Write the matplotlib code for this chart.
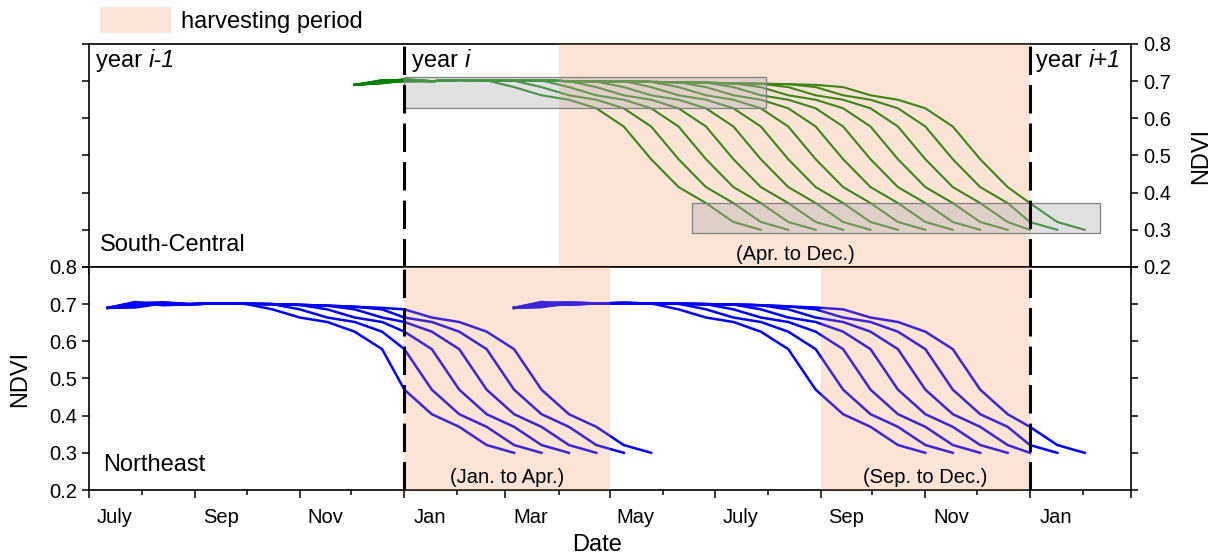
import numpy as np
import matplotlib.pyplot as plt
import matplotlib.dates as mdates
from matplotlib.patches import Patch, Rectangle
from matplotlib.transforms import blended_transform_factory

plt.rcParams['font.family'] = ['Liberation Sans', 'DejaVu Sans']

# MODIS 16-day composites: every curve = flat part + the same decline shifted by one composite
decline_ne = [0.686, 0.664, 0.652, 0.626, 0.579, 0.470, 0.404, 0.370, 0.321, 0.300]
decline_sc = [0.684, 0.662, 0.650, 0.627, 0.578, 0.490, 0.415, 0.372, 0.321, 0.300]

# Northeast, season 1: starts 2017 DOY 193, six curves
ne1_plateau = [0.690, 0.696, 0.701, 0.700, 0.702, 0.701, 0.700, 0.698, 0.696, 0.693, 0.690]
ne1_heads = [[0.690, 0.706, 0.697], [0.690, 0.694, 0.704], [0.690, 0.700, 0.699],
             [0.690, 0.691, 0.702], [0.690, 0.703, 0.705], [0.690, 0.697, 0.700]]

# Northeast, season 2: starts 2018 DOY 65, seven curves
ne2_plateau = [0.690, 0.695, 0.700, 0.702, 0.703, 0.702, 0.701, 0.700, 0.699, 0.697, 0.694, 0.691]
ne2_heads = [[0.690, 0.706, 0.698], [0.690, 0.693, 0.704], [0.690, 0.700, 0.700],
             [0.690, 0.692, 0.703], [0.690, 0.704, 0.705], [0.690, 0.696, 0.699],
             [0.690, 0.699, 0.702]]

# South-Central: starts 2017 DOY 337, thirteen curves
sc_plateau = [0.690, 0.697, 0.702, 0.700, 0.703, 0.702, 0.701, 0.702, 0.700, 0.699,
              0.700, 0.698, 0.697, 0.696, 0.694, 0.693, 0.692, 0.690]
sc_heads = [[0.690, 0.700, 0.705], [0.690, 0.695, 0.700], [0.690, 0.703, 0.701],
            [0.690, 0.698, 0.704], [0.690, 0.694, 0.702], [0.690, 0.701, 0.699],
            [0.690, 0.697, 0.705], [0.690, 0.699, 0.700], [0.690, 0.696, 0.703],
            [0.690, 0.702, 0.701], [0.690, 0.695, 0.704], [0.690, 0.700, 0.702],
            [0.690, 0.698, 0.700]]

month_labels = ['July', 'Sep', 'Nov', 'Jan', 'Mar', 'May', 'July', 'Sep', 'Nov', 'Jan']
label_dates = ['2017-07-16', '2017-09-16', '2017-11-16', '2018-01-16', '2018-03-16',
               '2018-05-16', '2018-07-16', '2018-09-16', '2018-11-16', '2019-01-16']

harvest_sc = [('2018-04-01', '2019-01-01')]
harvest_ne = [('2018-01-01', '2018-05-01'), ('2018-09-01', '2019-01-01')]
year_breaks = ['2018-01-01', '2019-01-01']

# gray boxes on the South-Central panel: (start, end, low, high)
sc_boxes = [('2018-01-01', '2018-07-31', 0.628, 0.711),
            ('2018-06-18', '2019-02-11', 0.291, 0.372)]

span_color = '#F0945C'


def composite_dates(year, doy, n):
    out = []
    for _ in range(n):
        out.append(np.datetime64(f'{year}-01-01') + np.timedelta64(doy - 1, 'D'))
        doy += 16
        if doy > 365:
            year, doy = year + 1, 1
    return out


def draw_group(ax, year, doy, heads, plateau, decline, color, lw):
    for k, head in enumerate(heads):
        n_flat = 6 + k
        vals = (head + plateau[len(head):])[:n_flat] + decline
        ax.plot(composite_dates(year, doy, len(vals)), vals, color=color, lw=lw, zorder=2)


fig = plt.figure(figsize=(12.13, 5.59), dpi=100)
ax_top = fig.add_axes([0.0734, 0.5224, 0.8590, 0.3989])
ax_bot = fig.add_axes([0.0734, 0.1234, 0.8590, 0.3990])

draw_group(ax_top, 2017, 337, sc_heads, sc_plateau, decline_sc, '#008000', 1.5)
draw_group(ax_bot, 2017, 193, ne1_heads, ne1_plateau, decline_ne, '#0000ff', 1.8)
draw_group(ax_bot, 2018, 65, ne2_heads, ne2_plateau, decline_ne, '#0000ff', 1.8)

for a, b in harvest_sc:
    ax_top.axvspan(np.datetime64(a), np.datetime64(b), color=span_color, alpha=0.25, lw=0, zorder=3)
for a, b in harvest_ne:
    ax_bot.axvspan(np.datetime64(a), np.datetime64(b), color=span_color, alpha=0.25, lw=0, zorder=3)

for a, b, lo, hi in sc_boxes:
    x0 = mdates.date2num(np.datetime64(a))
    x1 = mdates.date2num(np.datetime64(b))
    ax_top.add_patch(Rectangle((x0, lo), x1 - x0, hi - lo, facecolor='#b4b4b4', alpha=0.4,
                               edgecolor='none', zorder=4))
    ax_top.add_patch(Rectangle((x0, lo), x1 - x0, hi - lo, facecolor='none',
                               edgecolor='#808080', lw=0.9, zorder=4))

for ax in (ax_top, ax_bot):
    for d in year_breaks:
        ax.axvline(np.datetime64(d), color='black', lw=2.2, dashes=(9.3, 3.3), zorder=5)
    ax.set_xlim(np.datetime64('2017-07-01'), np.datetime64('2019-03-01'))
    ax.set_ylim(0.2, 0.8)
    ax.set_yticks([0.2, 0.3, 0.4, 0.5, 0.6, 0.7, 0.8])
    ax.xaxis.set_major_locator(mdates.MonthLocator(bymonth=[1, 3, 5, 7, 9, 11]))
    ax.xaxis.set_minor_locator(mdates.MonthLocator())
    ax.xaxis.set_major_formatter(plt.NullFormatter())
    for s in ax.spines.values():
        s.set_linewidth(1.2)
    ax.tick_params(axis='x', which='both', direction='out', width=1.1, labelbottom=False)
    ax.tick_params(axis='x', which='major', length=5.8)
    ax.tick_params(axis='x', which='minor', length=3.8)
    ax.tick_params(axis='y', which='major', direction='out', left=True, right=True,
                   length=5, width=1.1, labelsize=14.5)

ax_top.tick_params(axis='y', labelleft=False, labelright=True)
ax_top.yaxis.set_label_position('right')
ax_top.set_ylabel('NDVI', fontsize=17, labelpad=14)
ax_bot.tick_params(axis='y', labelleft=True, labelright=False)
ax_bot.set_ylabel('NDVI', fontsize=17, labelpad=13)

# month names sit in the middle of each labelled month
xt = blended_transform_factory(ax_bot.transData, ax_bot.transAxes)
for d, lab in zip(label_dates, month_labels):
    ax_bot.text(np.datetime64(d), -0.125, lab, transform=xt, ha='center', va='center', fontsize=14.5)
ax_bot.text(0.4875, -0.245, 'Date', transform=ax_bot.transAxes, ha='center', va='center', fontsize=17)

# year markers
for x, rest in [(0.0067, 'i-1'), (0.31, 'i'), (0.909, 'i+1')]:
    t = ax_top.text(x, 0.972, 'year ', transform=ax_top.transAxes, ha='left', va='top',
                    fontsize=17, zorder=6)
    ax_top.annotate(rest, xy=(1, 0), xycoords=t, ha='left', va='bottom', fontsize=17,
                    style='italic', zorder=6)

ax_top.text(0.0106, 0.099, 'South-Central', transform=ax_top.transAxes, ha='left', va='center', fontsize=17)
ax_bot.text(0.0134, 0.112, 'Northeast', transform=ax_bot.transAxes, ha='left', va='center', fontsize=17)
ax_top.text(0.678, 0.058, '(Apr. to Dec.)', transform=ax_top.transAxes, ha='center', va='center', fontsize=14.5)
ax_bot.text(0.401, 0.054, '(Jan. to Apr.)', transform=ax_bot.transAxes, ha='center', va='center', fontsize=14.5)
ax_bot.text(0.802, 0.054, '(Sep. to Dec.)', transform=ax_bot.transAxes, ha='center', va='center', fontsize=14.5)

fig.legend(handles=[Patch(facecolor=span_color, alpha=0.25, edgecolor='none', label='harvesting period')],
           loc='upper left', bbox_to_anchor=(100 / 1213, 1 - 7 / 559), frameon=False,
           borderpad=0, borderaxespad=0, handlelength=3.0, handleheight=1.3,
           handletextpad=0.45, fontsize=17)

fig.savefig('out.png', dpi=100)
